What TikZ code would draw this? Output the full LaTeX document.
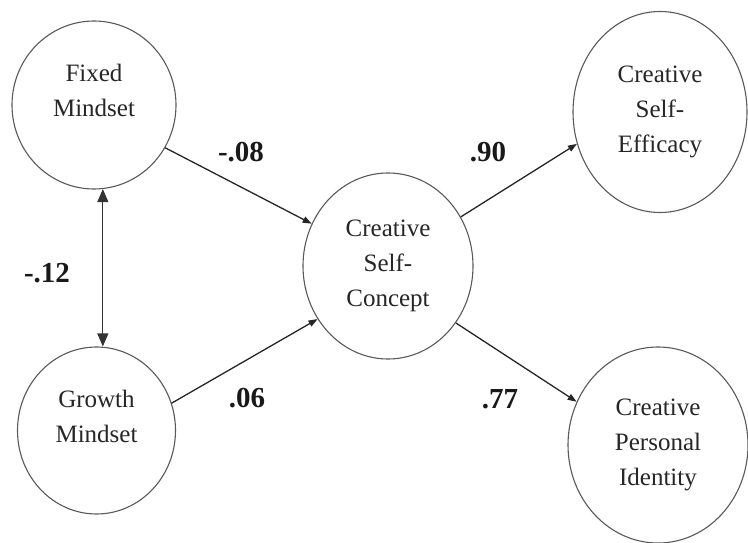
\documentclass[tikz,border=0pt]{standalone}
\usepackage{fontspec}
\setmainfont{Liberation Serif}
\usetikzlibrary{shapes.geometric,arrows.meta}
\begin{document}
\begin{tikzpicture}[x=1pt,y=-1pt,
  latent/.style={ellipse, draw=black!65, line width=1.1pt, inner sep=0pt, align=center,
    text=black!85, font=\fontsize{25}{35}\selectfont},
  pathar/.style={-{Triangle[length=9pt,width=6.5pt]}, line width=1.3pt, draw=black!85},
  corr/.style={{Triangle[length=13pt,width=11pt]}-{Triangle[length=13pt,width=11pt]},
    line width=1.1pt, draw=black!80},
  coef/.style={font=\bfseries\fontsize{29}{33}\selectfont, text=black!90}]
\useasboundingbox (0,0) rectangle (748,543);
\fill[white] (0,0) rectangle (748,543);

\node[latent, minimum width=164pt, minimum height=168pt] (fixed) at (94,105) {Fixed\\Mindset\\[-6pt]\mbox{}};
\node[latent, minimum width=158pt, minimum height=167pt] (growth) at (96.5,430.5) {Growth\\Mindset\\[-6pt]\mbox{}};
\node[latent, minimum width=170pt, minimum height=186pt] (concept) at (388,266) {Creative\\Self-\\Concept};
\node[latent, minimum width=174pt, minimum height=201pt] (efficacy) at (660,112) {Creative\\Self-\\Efficacy};
\node[latent, minimum width=180pt, minimum height=196pt] (identity) at (658,445) {Creative\\Personal\\Identity};

\draw[pathar] (fixed.-31.3) -- (concept.151.1);
\draw[pathar] (growth.20) -- (concept.-143.3);
\draw[pathar] (concept.34.9) -- (efficacy.-159.3);
\draw[pathar] (concept.-40.9) -- (identity.152.1);
\draw[corr] (fixed.-84) -- (fixed.-84 |- growth.north);

\node[coef] (c1) at (241,152) {-.08};
\node[coef] (c2) at (247,398) {.06};
\node[coef] (c3) at (47,273) {-.12};
\node[coef] (c4) at (488,152) {.90};
\node[coef] (c5) at (500,399) {.77};
\end{tikzpicture}
\end{document}
